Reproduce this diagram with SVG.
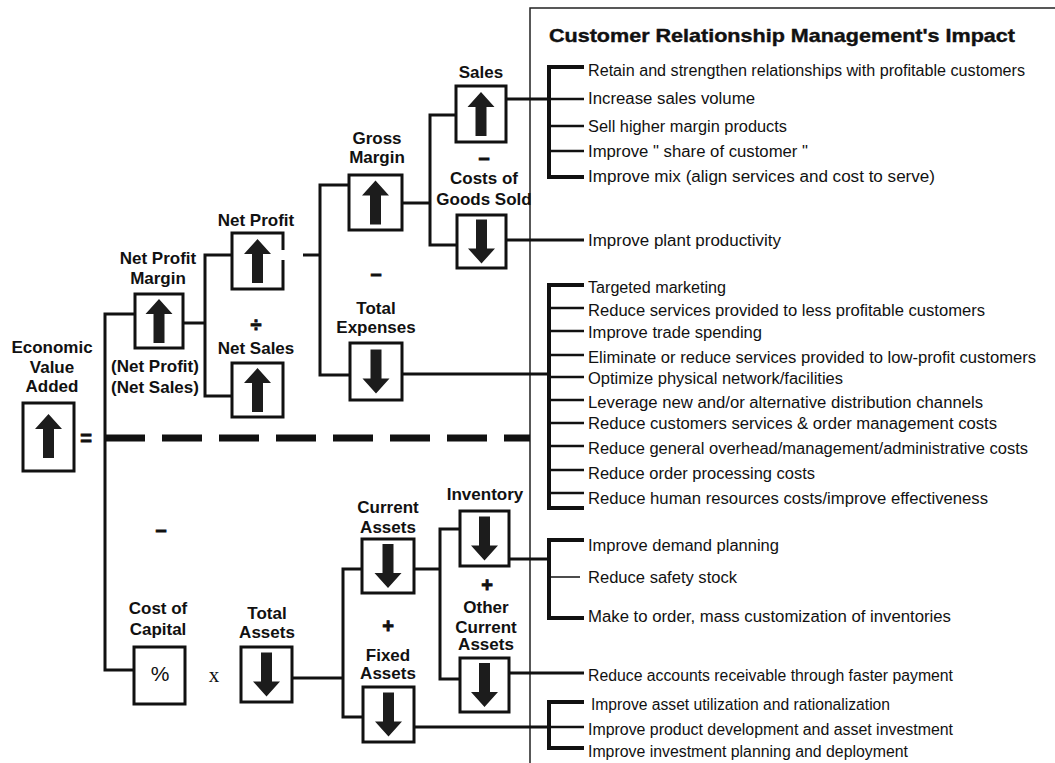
<svg xmlns="http://www.w3.org/2000/svg" xmlns:xlink="http://www.w3.org/1999/xlink" width="1055" height="763" viewBox="0 0 1055 763">
  <style>
    .box { fill: #fff; stroke: #111; stroke-width: 3; }
    .ln { fill: none; stroke: #111; stroke-width: 3; }
    .br { fill: none; stroke: #111; stroke-width: 4; }
    .tk { stroke: #111; stroke-width: 2.5; }
    .tkt { stroke: #111; stroke-width: 1.5; }
    .frame { fill: none; stroke: #222; stroke-width: 1.5; }
    .dash { stroke: #111; stroke-width: 7; stroke-dasharray: 40 17; }
    .lbl { font-family: "Liberation Sans", Arial, sans-serif; font-weight: bold; font-size: 17px; text-anchor: middle; fill: #111; }
    .op { font-family: "Liberation Sans", Arial, sans-serif; font-weight: bold; font-size: 20px; text-anchor: middle; fill: #111; stroke: #111; stroke-width: 0.8; }
    .item { font-family: "Liberation Sans", Arial, sans-serif; font-size: 16px; fill: #111; }
    .title { font-family: "Liberation Sans", Arial, sans-serif; font-weight: bold; font-size: 19px; fill: #111; stroke: #111; stroke-width: 0.4; }
    .arr { fill: #1c1c1c; }
  </style>
  <defs>
    <path id="up" class="arr" d="M0,-22 L13.5,-7 L5.5,-7 L5.5,22 L-5.5,22 L-5.5,-7 L-13.5,-7 Z"/>
    <path id="dn" class="arr" d="M0,22 L13.5,7 L5.5,7 L5.5,-22 L-5.5,-22 L-5.5,7 L-13.5,7 Z"/>
  </defs>

  <rect width="1055" height="763" fill="#fff"/>

  <!-- impact panel frame -->
  <path class="frame" d="M530,763 V8 H1055"/>
  <text class="title" x="549" y="42" textLength="466" lengthAdjust="spacingAndGlyphs">Customer Relationship Management's Impact</text>

  <!-- connectors -->
  <g id="connectors">
    <!-- EVA split -->
    <path class="ln" d="M135,314 H105 V670 H134"/>
    <line class="dash" x1="105" y1="438" x2="530" y2="438"/>
    <!-- net profit margin -->
    <path class="ln" d="M183,323 H205"/>
    <path class="ln" d="M232,255 H205 V396 H232"/>
    <!-- net profit -->
    <path class="ln" d="M303,255 H320"/>
    <path class="ln" d="M349,185 H320 V375 H350"/>
    <!-- gross margin -->
    <path class="ln" d="M402,203 H430"/>
    <path class="ln" d="M456,115 H430 V245 H457"/>
    <!-- total assets -->
    <path class="ln" d="M292,678 H343"/>
    <path class="ln" d="M362,569 H343 V717 H363"/>
    <!-- current assets -->
    <path class="ln" d="M414,569 H440"/>
    <path class="ln" d="M460,529 H440 V679 H460"/>

    <!-- links into the impact lists -->
    <line class="ln" x1="506" y1="99" x2="549" y2="99"/>
    <line class="ln" x1="506" y1="240" x2="584" y2="240"/>
    <line class="ln" x1="402" y1="374" x2="549" y2="374"/>
    <line class="ln" x1="509" y1="559" x2="549" y2="559"/>
    <line class="ln" x1="509" y1="673" x2="584" y2="673"/>
    <line class="ln" x1="414" y1="727" x2="549" y2="727"/>

    <!-- brackets -->
    <path class="br" d="M584,67 H549 V177 H584"/>
    <line class="tk" x1="549" y1="99" x2="584" y2="99"/>
    <line class="tk" x1="549" y1="126" x2="584" y2="126"/>
    <line class="tk" x1="549" y1="151" x2="584" y2="151"/>

    <path class="br" d="M584,285 H549 V508 H584"/>
    <line class="tk" x1="549" y1="308" x2="584" y2="308"/>
    <line class="tk" x1="549" y1="331" x2="584" y2="331"/>
    <line class="tk" x1="549" y1="355" x2="584" y2="355"/>
    <line class="tk" x1="549" y1="377" x2="584" y2="377"/>
    <line class="tk" x1="549" y1="400" x2="584" y2="400"/>
    <line class="tk" x1="549" y1="423" x2="584" y2="423"/>
    <line class="tk" x1="549" y1="446" x2="584" y2="446"/>
    <line class="tk" x1="549" y1="470" x2="584" y2="470"/>
    <line class="tk" x1="549" y1="493" x2="584" y2="493"/>

    <path class="br" d="M584,540 H549 V618 H584"/>
    <line class="tkt" x1="549" y1="577" x2="580" y2="577"/>

    <path class="br" d="M584,702 H549 V748 H584"/>
    <line class="tk" x1="549" y1="727" x2="584" y2="727"/>
  </g>

  <!-- value tree nodes -->
  <g id="eva">
    <text class="lbl" x="52" y="353">Economic</text>
    <text class="lbl" x="52" y="373">Value</text>
    <text class="lbl" x="52" y="392">Added</text>
    <rect class="box" x="23" y="403" width="51" height="68"/>
    <use xlink:href="#up" x="48.5" y="436"/>
    <text class="op" x="86" y="445">=</text>
  </g>

  <g id="net-profit-margin">
    <text class="lbl" x="158" y="264">Net Profit</text>
    <text class="lbl" x="158" y="284">Margin</text>
    <rect class="box" x="135" y="294" width="48" height="54"/>
    <use xlink:href="#up" x="159" y="321"/>
    <text class="lbl" x="155" y="372">(Net Profit)</text>
    <text class="lbl" x="155" y="393">(Net Sales)</text>
  </g>

  <g id="net-profit">
    <text class="lbl" x="256" y="226">Net Profit</text>
    <path class="ln" d="M283,250 V233 H232 V289 H283 V260"/>
    <use xlink:href="#up" x="257.5" y="261"/>
  </g>

  <g id="net-sales">
    <text class="op" x="256" y="332" font-size="30" stroke-width="0.5">÷</text>
    <text class="lbl" x="256" y="354">Net Sales</text>
    <rect class="box" x="232" y="363" width="51" height="54"/>
    <use xlink:href="#up" x="257.5" y="390"/>
  </g>

  <g id="gross-margin">
    <text class="lbl" x="377" y="144">Gross</text>
    <text class="lbl" x="377" y="163">Margin</text>
    <rect class="box" x="349" y="175" width="53" height="55"/>
    <use xlink:href="#up" x="375.5" y="202.5"/>
  </g>

  <g id="total-expenses">
    <text class="op" x="376" y="280">–</text>
    <text class="lbl" x="376" y="314">Total</text>
    <text class="lbl" x="376" y="333">Expenses</text>
    <rect class="box" x="350" y="343" width="52" height="57"/>
    <use xlink:href="#dn" x="376" y="371.5"/>
  </g>

  <g id="sales">
    <text class="lbl" x="481" y="78">Sales</text>
    <rect class="box" x="456" y="86" width="50" height="56"/>
    <use xlink:href="#up" x="481" y="114"/>
  </g>

  <g id="cogs">
    <text class="op" x="484" y="164">–</text>
    <text class="lbl" x="484" y="184">Costs of</text>
    <text class="lbl" x="484" y="205">Goods Sold</text>
    <rect class="box" x="457" y="215" width="49" height="53"/>
    <use xlink:href="#dn" x="481.5" y="241.5"/>
  </g>

  <g id="cost-of-capital">
    <text class="op" x="161" y="536">–</text>
    <text class="lbl" x="158" y="614">Cost of</text>
    <text class="lbl" x="158" y="635">Capital</text>
    <rect class="box" x="134" y="647" width="51" height="57"/>
    <text x="160" y="681" text-anchor="middle" font-family="Liberation Sans, Arial, sans-serif" font-size="21" fill="#111">%</text>
    <text x="214" y="682" text-anchor="middle" font-family="Liberation Serif, serif" font-size="21" fill="#111">x</text>
  </g>

  <g id="total-assets">
    <text class="lbl" x="267" y="619">Total</text>
    <text class="lbl" x="267" y="638">Assets</text>
    <rect class="box" x="241" y="647" width="51" height="55"/>
    <use xlink:href="#dn" x="266.5" y="674.5"/>
  </g>

  <g id="current-assets">
    <text class="lbl" x="388" y="513">Current</text>
    <text class="lbl" x="388" y="533">Assets</text>
    <rect class="box" x="362" y="539" width="52" height="54"/>
    <use xlink:href="#dn" x="388" y="566"/>
  </g>

  <g id="fixed-assets">
    <text class="op" x="388" y="633">+</text>
    <text class="lbl" x="388" y="661">Fixed</text>
    <text class="lbl" x="388" y="679">Assets</text>
    <rect class="box" x="363" y="687" width="51" height="55"/>
    <use xlink:href="#dn" x="388.5" y="714.5"/>
  </g>

  <g id="inventory">
    <text class="lbl" x="485" y="500">Inventory</text>
    <rect class="box" x="460" y="511" width="49" height="55"/>
    <use xlink:href="#dn" x="484.5" y="538.5"/>
  </g>

  <g id="other-current-assets">
    <text class="op" x="487" y="592" font-size="16">+</text>
    <text class="lbl" x="486" y="613">Other</text>
    <text class="lbl" x="486" y="633">Current</text>
    <text class="lbl" x="486" y="650">Assets</text>
    <rect class="box" x="460" y="658" width="49" height="54"/>
    <use xlink:href="#dn" x="484.5" y="685"/>
  </g>

  <!-- impact lists -->
  <g id="impact-sales">
    <text class="item" x="588" y="76" textLength="437" lengthAdjust="spacingAndGlyphs">Retain and strengthen relationships with profitable customers</text>
    <text class="item" x="588" y="104" textLength="167" lengthAdjust="spacingAndGlyphs">Increase sales volume</text>
    <text class="item" x="588" y="132" textLength="199" lengthAdjust="spacingAndGlyphs">Sell higher margin products</text>
    <text class="item" x="588" y="157" textLength="220" lengthAdjust="spacingAndGlyphs">Improve " share of customer "</text>
    <text class="item" x="588" y="182" textLength="347" lengthAdjust="spacingAndGlyphs">Improve mix (align services and cost to serve)</text>
  </g>
  <g id="impact-cogs">
    <text class="item" x="588" y="246" textLength="193" lengthAdjust="spacingAndGlyphs">Improve plant productivity</text>
  </g>
  <g id="impact-expenses">
    <text class="item" x="588" y="293" textLength="138" lengthAdjust="spacingAndGlyphs">Targeted marketing</text>
    <text class="item" x="588" y="316" textLength="397" lengthAdjust="spacingAndGlyphs">Reduce services provided to less profitable customers</text>
    <text class="item" x="588" y="338" textLength="174" lengthAdjust="spacingAndGlyphs">Improve trade spending</text>
    <text class="item" x="588" y="363" textLength="448" lengthAdjust="spacingAndGlyphs">Eliminate or reduce services provided to low-profit customers</text>
    <text class="item" x="588" y="384" textLength="255" lengthAdjust="spacingAndGlyphs">Optimize physical network/facilities</text>
    <text class="item" x="588" y="408" textLength="395" lengthAdjust="spacingAndGlyphs">Leverage new and/or alternative distribution channels</text>
    <text class="item" x="588" y="429" textLength="409" lengthAdjust="spacingAndGlyphs">Reduce customers services &amp; order management costs</text>
    <text class="item" x="588" y="454" textLength="440" lengthAdjust="spacingAndGlyphs">Reduce general overhead/management/administrative costs</text>
    <text class="item" x="588" y="479" textLength="227" lengthAdjust="spacingAndGlyphs">Reduce order processing costs</text>
    <text class="item" x="588" y="504" textLength="400" lengthAdjust="spacingAndGlyphs">Reduce human resources costs/improve effectiveness</text>
  </g>
  <g id="impact-inventory">
    <text class="item" x="588" y="551" textLength="191" lengthAdjust="spacingAndGlyphs">Improve demand planning</text>
    <text class="item" x="588" y="583" textLength="149" lengthAdjust="spacingAndGlyphs">Reduce safety stock</text>
    <text class="item" x="588" y="622" textLength="363" lengthAdjust="spacingAndGlyphs">Make to order, mass customization of inventories</text>
  </g>
  <g id="impact-receivables">
    <text class="item" x="588" y="681" textLength="365" lengthAdjust="spacingAndGlyphs">Reduce accounts receivable through faster payment</text>
  </g>
  <g id="impact-fixed">
    <text class="item" x="591" y="710" textLength="299" lengthAdjust="spacingAndGlyphs">Improve asset utilization and rationalization</text>
    <text class="item" x="588" y="735" textLength="365" lengthAdjust="spacingAndGlyphs">Improve product development and asset investment</text>
    <text class="item" x="588" y="757" textLength="320" lengthAdjust="spacingAndGlyphs">Improve investment planning and deployment</text>
  </g>
</svg>
